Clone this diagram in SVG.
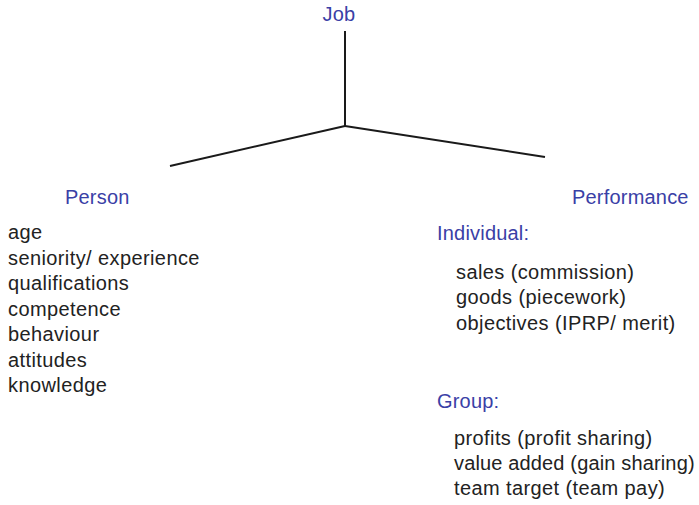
<svg xmlns="http://www.w3.org/2000/svg" width="699" height="505" viewBox="0 0 699 505">
  <style>
    text { font-family: "Liberation Sans", Arial, sans-serif; font-size: 20px; letter-spacing: 0.4px; }
    .head { fill: #3a40a6; letter-spacing: 0.2px; }
    .item { fill: #222222; }
    .tight { letter-spacing: 0.15px; }
    .link { stroke: #1a1a1a; stroke-width: 2; fill: none; }
  </style>
  <rect width="699" height="505" fill="#ffffff"/>

  <!-- connectors -->
  <g id="connectors">
    <line class="link" x1="345" y1="31" x2="345" y2="126"/>
    <line class="link" x1="345" y1="126" x2="170" y2="166"/>
    <line class="link" x1="345" y1="126" x2="545" y2="157"/>
  </g>

  <g id="job">
    <text class="head" x="339" y="21" text-anchor="middle">Job</text>
  </g>

  <g id="person">
    <text class="head" x="65" y="204">Person</text>
    <text class="item" x="8" y="239">age</text>
    <text class="item" x="8" y="265">seniority/ experience</text>
    <text class="item" x="8" y="290">qualifications</text>
    <text class="item" x="8" y="316">competence</text>
    <text class="item" x="8" y="341">behaviour</text>
    <text class="item" x="8" y="367">attitudes</text>
    <text class="item" x="8" y="392">knowledge</text>
  </g>

  <g id="performance">
    <text class="head" x="572" y="204">Performance</text>
    <text class="head" x="437" y="240">Individual:</text>
    <text class="item" x="456" y="279">sales (commission)</text>
    <text class="item" x="456" y="304">goods (piecework)</text>
    <text class="item" x="456" y="330">objectives (IPRP/ merit)</text>
    <text class="head" x="437" y="408">Group:</text>
    <text class="item" x="454" y="445">profits (profit sharing)</text>
    <text class="item tight" x="454" y="470">value added (gain sharing)</text>
    <text class="item" x="454" y="495">team target (team pay)</text>
  </g>
</svg>
